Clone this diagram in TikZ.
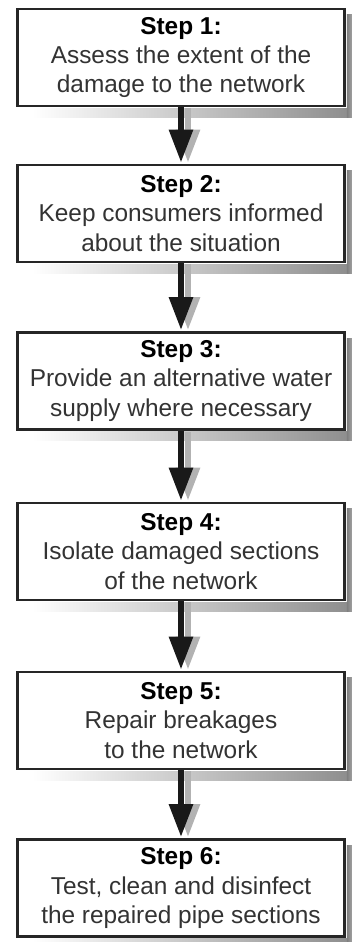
\documentclass[tikz,border=0pt]{standalone}
\usepackage{fontspec}
\setmainfont{Liberation Sans}
\usetikzlibrary{arrows.meta}

\tikzset{
  stepbox/.style={draw=black!85, line width=1.25pt, fill=white, align=center,
    minimum width=163.5pt, minimum height=48.5pt, inner sep=0pt,
    text=black!80, font=\fontsize{12.2}{14.6}\selectfont},
  flowarrow/.style={line width=3pt, black!90,
    -{Triangle[length=16.5pt, width=11.5pt]}, shorten >=0.6pt},
  shadowarrow/.style={line width=3pt, black!30,
    -{Triangle[length=16.5pt, width=11.5pt]}, shorten >=0.6pt},
}

\newcommand{\steptitle}[1]{{\bfseries\color{black}#1}}

\begin{document}
\begin{tikzpicture}[x=0.5pt, y=-0.5pt]
  \def\sx{181} % x of the box centres
  \def\dx{3.5pt} % shadow offset
  \useasboundingbox (0,0) rectangle (352,942);

  % STEPS
  \node [stepbox] (s1) at (\sx,57.5)  {\steptitle{Step 1:}\\Assess the extent of the\\damage to the network};
  \node [stepbox] (s2) at (\sx,213.5) {\steptitle{Step 2:}\\Keep consumers informed\\about the situation};
  \node [stepbox] (s3) at (\sx,381)   {\steptitle{Step 3:}\\Provide an alternative water\\supply where necessary};
  \node [stepbox] (s4) at (\sx,551.5) {\steptitle{Step 4:}\\Isolate damaged sections\\of the network};
  \node [stepbox] (s5) at (\sx,720.5) {\steptitle{Step 5:}\\Repair breakages\\to the network};
  \node [stepbox] (s6) at (\sx,888)   {\steptitle{Step 6:}\\Test, clean and disinfect\\the repaired pipe sections};

  % BOX SHADOWS
  \shade [left color=white, right color=black!45]
    ([xshift=8pt,yshift=-0.6pt]s1.south west) rectangle ([xshift=\dx,yshift=-5pt]s1.south east);
  \shade [left color=black!50, right color=black!35]
    ([xshift=0.6pt,yshift=-3.5pt]s1.north east) rectangle ([xshift=\dx,yshift=-5pt]s1.south east);
  \shade [left color=white, right color=black!45]
    ([xshift=8pt,yshift=-0.6pt]s2.south west) rectangle ([xshift=\dx,yshift=-5pt]s2.south east);
  \shade [left color=black!50, right color=black!35]
    ([xshift=0.6pt,yshift=-3.5pt]s2.north east) rectangle ([xshift=\dx,yshift=-5pt]s2.south east);
  \shade [left color=white, right color=black!45]
    ([xshift=8pt,yshift=-0.6pt]s3.south west) rectangle ([xshift=\dx,yshift=-5pt]s3.south east);
  \shade [left color=black!50, right color=black!35]
    ([xshift=0.6pt,yshift=-3.5pt]s3.north east) rectangle ([xshift=\dx,yshift=-5pt]s3.south east);
  \shade [left color=white, right color=black!45]
    ([xshift=8pt,yshift=-0.6pt]s4.south west) rectangle ([xshift=\dx,yshift=-5pt]s4.south east);
  \shade [left color=black!50, right color=black!35]
    ([xshift=0.6pt,yshift=-3.5pt]s4.north east) rectangle ([xshift=\dx,yshift=-5pt]s4.south east);
  \shade [left color=white, right color=black!45]
    ([xshift=8pt,yshift=-0.6pt]s5.south west) rectangle ([xshift=\dx,yshift=-5pt]s5.south east);
  \shade [left color=black!50, right color=black!35]
    ([xshift=0.6pt,yshift=-3.5pt]s5.north east) rectangle ([xshift=\dx,yshift=-5pt]s5.south east);
  \shade [left color=white, right color=black!45]
    ([xshift=8pt,yshift=-0.6pt]s6.south west) rectangle ([xshift=\dx,yshift=-2pt]s6.south east);
  \shade [left color=black!50, right color=black!35]
    ([xshift=0.6pt,yshift=-3.5pt]s6.north east) rectangle ([xshift=\dx,yshift=-2pt]s6.south east);

  % ARROW SHADOWS
  \draw [shadowarrow] ([xshift=\dx,yshift=-0.6pt]s1.south) -- ([xshift=\dx]s2.north);
  \draw [shadowarrow] ([xshift=\dx,yshift=-0.6pt]s2.south) -- ([xshift=\dx]s3.north);
  \draw [shadowarrow] ([xshift=\dx,yshift=-0.6pt]s3.south) -- ([xshift=\dx]s4.north);
  \draw [shadowarrow] ([xshift=\dx,yshift=-0.6pt]s4.south) -- ([xshift=\dx]s5.north);
  \draw [shadowarrow] ([xshift=\dx,yshift=-0.6pt]s5.south) -- ([xshift=\dx]s6.north);

  % ARROWS
  \draw [flowarrow] (s1.south) -- (s2.north);
  \draw [flowarrow] (s2.south) -- (s3.north);
  \draw [flowarrow] (s3.south) -- (s4.north);
  \draw [flowarrow] (s4.south) -- (s5.north);
  \draw [flowarrow] (s5.south) -- (s6.north);

\end{tikzpicture}
\end{document}
